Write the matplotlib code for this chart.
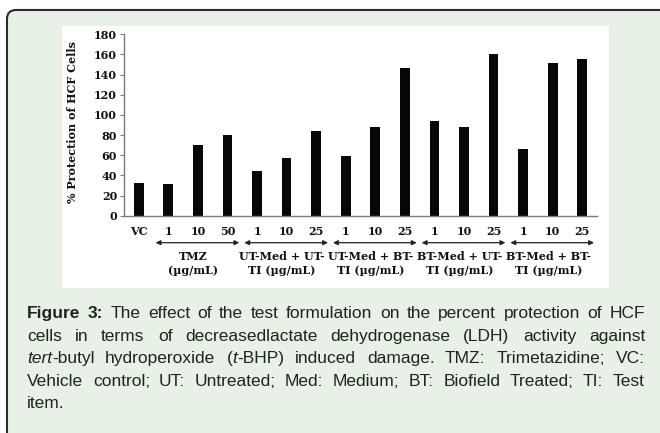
import re
import matplotlib
matplotlib.use('Agg')
import matplotlib.pyplot as plt
from matplotlib.patches import FancyBboxPatch, Rectangle
from matplotlib.transforms import IdentityTransform, blended_transform_factory

# bar data
categories = ['VC', '1', '10', '50', '1', '10', '25', '1', '10', '25',
              '1', '10', '25', '1', '10', '25']
protection = [32, 31, 70, 80, 44, 57, 84, 59, 88, 147, 94, 88, 160, 66, 152, 155]

# treatment groups under the axis (first bar, last bar)
group_names = ['TMZ\n(µg/mL)', 'UT-Med + UT-\nTI (µg/mL)', 'UT-Med + BT-\nTI (µg/mL)',
               'BT-Med + UT-\nTI (µg/mL)', 'BT-Med + BT-\nTI (µg/mL)']
group_bars = [(1, 3), (4, 6), (7, 9), (10, 12), (13, 15)]

caption_lines = [
    '**Figure** **3:** The effect of the test formulation on the percent protection of HCF',
    'cells in terms of decreasedlactate dehydrogenase (LDH) activity against',
    '*tert*-butyl hydroperoxide (*t*-BHP) induced damage. TMZ: Trimetazidine; VC:',
    'Vehicle control; UT: Untreated; Med: Medium; BT: Biofield Treated; TI: Test',
    'item.',
]

W, H = 660, 433
card_bg = '#e7f1e5'
plt.rcParams['font.family'] = 'DejaVu Serif'
plt.rcParams['font.weight'] = 'bold'

fig = plt.figure(figsize=(W / 100, H / 100), dpi=100, facecolor='white')
px = IdentityTransform()

# card with rounded border and white chart panel
card = FancyBboxPatch((7, -100), 1200, H - 10 + 100, boxstyle='round,pad=0,rounding_size=9',
                      transform=px, fc=card_bg, ec='#2b2b2b', lw=1.5, zorder=-3)
fig.add_artist(card)
panel = Rectangle((62, H - 288), 547, 262, transform=px, fc='white', ec='none', zorder=-2)
fig.add_artist(panel)

# chart
ax = fig.add_axes([124 / W, (H - 215.7) / H, 473 / W, 181.4 / H])
ax.patch.set_visible(False)
x = range(len(categories))
ax.bar(x, protection, width=0.33, color='#060808')
ax.set_xlim(-0.5, 15.5)
ax.set_ylim(0, 180)
ax.set_yticks(range(0, 181, 20))
ax.set_xticks(list(x))
ax.set_xticklabels(categories)
for s in ['top', 'right']:
    ax.spines[s].set_visible(False)
for s in ['left', 'bottom']:
    ax.spines[s].set_color('#7a7a7a')
    ax.spines[s].set_linewidth(1)
ax.tick_params(axis='y', length=3, width=0.8, color='#7a7a7a', pad=2, labelsize=8, labelcolor='#111')
ax.tick_params(axis='x', length=0, pad=7.5, labelsize=8, labelcolor='#111')

fig.text(73 / W, 1 - 122 / H, '% Protection of HCF Cells', rotation=90,
         ha='center', va='center', fontsize=8, color='#111')

# group arrows and labels
trans = blended_transform_factory(ax.transData, ax.transAxes)
arrow_y = (215.7 - 242.7) / 181.4
label_y = (215.7 - 263.4) / 181.4
for name, (a, b) in zip(group_names, group_bars):
    ax.annotate('', xy=(b + 0.4, arrow_y), xytext=(a - 0.43, arrow_y),
                xycoords=trans, textcoords=trans, annotation_clip=False,
                arrowprops=dict(arrowstyle='<|-|>', color='#222', lw=0.9,
                                mutation_scale=7, shrinkA=0, shrinkB=0))
    ax.text((a + b) / 2 - 0.15, label_y, name, transform=trans, ha='center', va='center',
            fontsize=8, linespacing=1.3, color='#111')

# justified caption
renderer = fig.canvas.get_renderer()
left, right = 27, 645
baselines = [318, 341, 363, 386, 408]
for i, line in enumerate(caption_lines):
    words = []
    for w in line.split(' '):
        arts = []
        for seg in re.findall(r'\*\*[^*]+\*\*|\*[^*]+\*|[^*]+', w):
            if seg.startswith('**'):
                t, wt, st = seg[2:-2], 'bold', 'normal'
            elif seg.startswith('*'):
                t, wt, st = seg[1:-1], 'normal', 'italic'
            else:
                t, wt, st = seg, 'normal', 'normal'
            arts.append(fig.text(0, 0, t, fontsize=12.5, family='Liberation Sans', weight=wt,
                                 style=st, color='#222', va='baseline', transform=px))
        widths = [a.get_window_extent(renderer).width for a in arts]
        words.append((arts, widths))
    total = sum(sum(ws) for _, ws in words)
    gap = (right - left - total) / (len(words) - 1) if i < len(caption_lines) - 1 else 4
    xpos = left
    for arts, ws in words:
        for a, wd in zip(arts, ws):
            a.set_position((round(xpos), H - baselines[i]))
            xpos += wd
        xpos += gap

fig.savefig('out.png', dpi=100, facecolor='white')
